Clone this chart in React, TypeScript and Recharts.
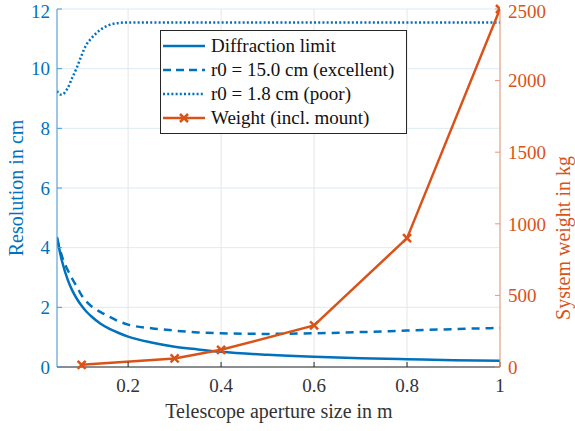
import { FC } from 'react';
import {
  CartesianGrid,
  Label,
  Legend,
  Line,
  LineChart,
  XAxis,
  YAxis,
} from 'recharts';

// aperture sizes (m) at which the resolution curves were read
const apertureM = [
  0.047, 0.055, 0.06, 0.07, 0.08, 0.09, 0.1, 0.11, 0.12, 0.14, 0.16, 0.18,
  0.2, 0.25, 0.3, 0.35, 0.4, 0.5, 0.6, 0.7, 0.8, 0.9, 1.0,
];
const diffractionCm = [
  4.36, 3.73, 3.42, 2.93, 2.56, 2.28, 2.05, 1.86, 1.71, 1.46, 1.28, 1.14,
  1.02, 0.82, 0.68, 0.59, 0.51, 0.41, 0.34, 0.29, 0.26, 0.23, 0.21,
];
const excellentCm = [
  4.3, 3.85, 3.6, 3.25, 2.95, 2.68, 2.4, 2.2, 2.05, 1.85, 1.68, 1.53,
  1.42, 1.3, 1.22, 1.16, 1.13, 1.11, 1.13, 1.17, 1.22, 1.27, 1.31,
];
const poorCm = [
  9.25, 9.13, 9.15, 9.35, 9.7, 10.05, 10.45, 10.8, 11.0, 11.3, 11.47, 11.53,
  11.55, 11.55, 11.55, 11.55, 11.55, 11.55, 11.55, 11.55, 11.55, 11.55, 11.55,
];

const weightApertureM = [0.1, 0.3, 0.4, 0.6, 0.8, 1.0];
const weightKg = [15, 60, 120, 290, 900, 2500];

const xTicks = [0.2, 0.4, 0.6, 0.8, 1];
const leftTicks = [0, 2, 4, 6, 8, 10, 12];
const rightTicks = [0, 500, 1000, 1500, 2000, 2500];

const BLUE = '#0072BD';
const ORANGE = '#D95319';
const FONT =
  "'Liberation Serif', 'Times New Roman', Times, 'DejaVu Serif', 'Noto Serif', serif";

const curveData = apertureM.map((d, i) => ({
  d,
  diff: diffractionCm[i],
  exc: excellentCm[i],
  poor: poorCm[i],
}));
const weightData = weightApertureM.map((d, i) => ({ d, w: weightKg[i] }));

const Cross = (props: any) => {
  const { cx, cy } = props;
  if (cx == null || cy == null) return null;
  const s = 4;
  return (
    <g stroke={ORANGE} strokeWidth={2.5}>
      <line x1={cx - s} y1={cy - s} x2={cx + s} y2={cy + s} />
      <line x1={cx - s} y1={cy + s} x2={cx + s} y2={cy - s} />
    </g>
  );
};

const legendRows = [
  { name: 'Diffraction limit', color: BLUE, dash: undefined, marker: false },
  { name: 'r0 = 15.0 cm (excellent)', color: BLUE, dash: '8 5', marker: false },
  { name: 'r0 = 1.8 cm (poor)', color: BLUE, dash: '2 2.2', marker: false },
  { name: 'Weight (incl. mount)', color: ORANGE, dash: undefined, marker: true },
];

const LegendBox = () => (
  <div
    style={{
      border: '1px solid #262626',
      background: '#fff',
      padding: '3px 0 3px 0',
      width: 245,
      fontFamily: FONT,
      fontSize: 19,
      color: '#111',
    }}
  >
    {legendRows.map((r) => (
      <div key={r.name} style={{ display: 'flex', alignItems: 'center', height: 24 }}>
        <svg width={50} height={24} style={{ flex: 'none' }}>
          <line
            x1={2}
            x2={44}
            y1={12}
            y2={12}
            stroke={r.color}
            strokeWidth={2.5}
            strokeDasharray={r.dash}
          />
          {r.marker && <Cross cx={23} cy={12} />}
        </svg>
        <span style={{ whiteSpace: 'nowrap' }}>{r.name}</span>
      </div>
    ))}
  </div>
);

const App: FC = () => {
  return (
    <div style={{ position: 'absolute', left: 0, top: 0 }}>
      <LineChart
        width={575}
        height={431}
        margin={{ top: 9, right: 15, bottom: 14, left: 7 }}
      >
        <CartesianGrid
          xAxisId="bottom"
          yAxisId="left"
          vertical={false}
          stroke="#DDEBF5"
          strokeWidth={1}
        />
        <CartesianGrid
          xAxisId="bottom"
          yAxisId="left"
          horizontal={false}
          stroke="#E6E6E6"
          strokeWidth={1}
        />
        <XAxis
          xAxisId="bottom"
          dataKey="d"
          type="number"
          domain={[0.047, 1]}
          allowDataOverflow
          ticks={xTicks}
          height={50}
          stroke="#262626"
          tickSize={-5}
          tickMargin={17}
          tick={{ fill: '#333', fontSize: 19, fontFamily: FONT }}
        >
          <Label
            content={() => (
              <text
                x={279}
                y={418}
                textAnchor="middle"
                fill="#333"
                fontSize={20}
                fontFamily={FONT}
              >
                Telescope aperture size in m
              </text>
            )}
          />
        </XAxis>
        <XAxis
          xAxisId="top"
          orientation="top"
          dataKey="d"
          type="number"
          domain={[0.047, 1]}
          allowDataOverflow
          ticks={xTicks}
          height={0}
          stroke="#262626"
          tickSize={-5}
          tick={false}
        />
        <YAxis
          yAxisId="left"
          type="number"
          domain={[0, 12]}
          ticks={leftTicks}
          width={50}
          stroke="#4A9BD6"
          tickSize={-5}
          tickMargin={12}
          tick={{ fill: BLUE, fontSize: 19, fontFamily: FONT }}
        >
          <Label
            content={() => (
              <text
                x={23}
                y={188}
                transform="rotate(-90 23 188)"
                textAnchor="middle"
                fill={BLUE}
                fontSize={20}
                fontFamily={FONT}
              >
                Resolution in cm
              </text>
            )}
          />
        </YAxis>
        <YAxis
          yAxisId="right"
          orientation="right"
          type="number"
          domain={[0, 2500]}
          ticks={rightTicks}
          width={60}
          stroke="#E8977A"
          tickSize={-5}
          tickMargin={13}
          tick={{ fill: ORANGE, fontSize: 19, fontFamily: FONT }}
        >
          <Label
            content={() => (
              <text
                x={570}
                y={238}
                transform="rotate(-90 570 238)"
                textAnchor="middle"
                fill={ORANGE}
                fontSize={20}
                fontFamily={FONT}
              >
                System weight in kg
              </text>
            )}
          />
        </YAxis>
        <Legend
          layout="vertical"
          align="center"
          verticalAlign="middle"
          wrapperStyle={{ top: 30, left: 160, width: 247 }}
          content={() => <LegendBox />}
        />
        <Line
          xAxisId="bottom"
          yAxisId="left"
          data={curveData}
          dataKey="diff"
          type="monotone"
          stroke={BLUE}
          strokeWidth={2.5}
          dot={false}
          isAnimationActive={false}
        />
        <Line
          xAxisId="bottom"
          yAxisId="left"
          data={curveData}
          dataKey="exc"
          type="monotone"
          stroke={BLUE}
          strokeWidth={2.5}
          strokeDasharray="8 6"
          dot={false}
          isAnimationActive={false}
        />
        <Line
          xAxisId="bottom"
          yAxisId="left"
          data={curveData}
          dataKey="poor"
          type="monotone"
          stroke={BLUE}
          strokeWidth={2.5}
          strokeDasharray="2 2.2"
          dot={false}
          isAnimationActive={false}
        />
        <Line
          xAxisId="bottom"
          yAxisId="right"
          data={weightData}
          dataKey="w"
          type="linear"
          stroke={ORANGE}
          strokeWidth={2.5}
          dot={<Cross />}
          activeDot={false}
          isAnimationActive={false}
        />
      </LineChart>
    </div>
  );
};

export default App;
